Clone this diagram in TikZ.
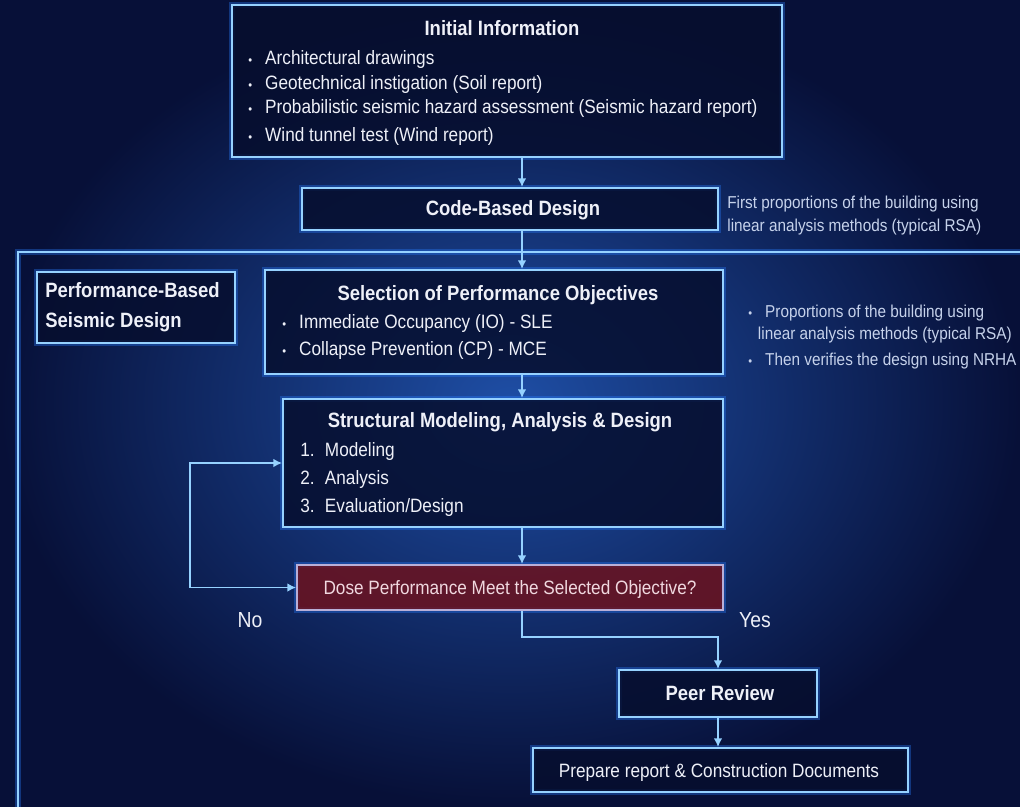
\documentclass[tikz,border=0pt]{standalone}
\usepackage{fontspec}
\setmainfont{Liberation Sans}[FakeStretch=0.89]
\usetikzlibrary{positioning, arrows.meta}

\definecolor{bgdark}{RGB}{7,16,56}
\definecolor{bglight}{RGB}{30,78,165}
\definecolor{edge}{RGB}{150,210,255}
\definecolor{glowc}{RGB}{40,125,255}
\definecolor{boxfill}{RGB}{6,14,46}
\definecolor{decfill}{RGB}{108,18,30}
\definecolor{decedge}{RGB}{185,175,215}
\definecolor{txt}{RGB}{238,240,248}
\definecolor{notetxt}{RGB}{198,210,235}

\newcommand{\blt}{\makebox[9.6pt][l]{\scriptsize\textbullet}}
\newcommand{\num}[1]{\makebox[14pt][l]{#1}}

\begin{document}
\begin{tikzpicture}[x=0.02cm, y=-0.02cm]

        % 1. Styles for boxes, texts and connectors
        \tikzset{
          box/.style={draw=edge, line width=1.1pt, fill=boxfill, fill opacity=0.85,
            inner sep=0pt, preaction={draw=glowc, line width=3.5pt, draw opacity=0.35}},
          head/.style={font=\bfseries\fontsize{11.8}{13}\selectfont, text=txt, inner sep=0pt},
          body/.style={font=\fontsize{11}{13}\selectfont, text=txt, inner sep=0pt, anchor=base west},
          note/.style={font=\fontsize{9.8}{11}\selectfont, text=notetxt, inner sep=0pt, anchor=base west},
          flow/.style={draw=edge, line width=1.1pt, -{Latex[length=5pt, width=5pt]}},
          frameline/.style={draw=edge, line width=1.1pt,
            preaction={draw=glowc, line width=3.5pt, draw opacity=0.35}}
        }

        % 2. Background
        \clip (0,0) rectangle (1020,806);
        \fill[bgdark] (0,0) rectangle (1020,806);
        \shade[inner color=bglight, outer color=bgdark] (0,0) rectangle (1020,806);

        % 3. Outer frame of the performance-based part
        \draw[frameline] (18,830) -- (18,252) -- (1040,252);

        % 4. Initial information
        \node[box, minimum width=11cm, minimum height=3.04cm] (init) at (507,81) {};
        \node[head, anchor=base] (initTitle) at (502,35) {Initial Information};
        \node[body] (init1) at (248,64) {\blt Architectural drawings};
        \node[body] (init2) at (248,89) {\blt Geotechnical instigation (Soil report)};
        \node[body] (init3) at (248,113) {\blt Probabilistic seismic hazard assessment (Seismic hazard report)};
        \node[body] (init4) at (248,141) {\blt Wind tunnel test (Wind report)};

        % 5. Code-based design and its note
        \node[box, minimum width=8.32cm, minimum height=0.84cm] (code) at (510,209) {};
        \node[head, anchor=base] (codeText) at (513,215) {Code-Based Design};
        \node[note] (codeNote1) at (727,208) {First proportions of the building using};
        \node[note] (codeNote2) at (727,231) {linear analysis methods (typical RSA)};

        % 6. Performance-based seismic design
        \node[box, minimum width=3.96cm, minimum height=1.42cm] (pbsd) at (136,307.5) {};
        \node[head, anchor=base west] (pbsd1) at (45,297) {Performance-Based};
        \node[head, anchor=base west] (pbsd2) at (45,327) {Seismic Design};

        \node[box, minimum width=9.16cm, minimum height=2.08cm] (sel) at (494,322) {};
        \node[head, anchor=base] (selTitle) at (498,300) {Selection of Performance Objectives};
        \node[body] (sel1) at (282,328) {\blt Immediate Occupancy (IO) - SLE};
        \node[body] (sel2) at (282,355) {\blt Collapse Prevention (CP) - MCE};

        \node[note] (pbsdNote1) at (748,317) {\blt Proportions of the building using};
        \node[note] (pbsdNote2) at (757.6,339) {linear analysis methods (typical RSA)};
        \node[note] (pbsdNote3) at (748,365) {\blt Then verifies the design using NRHA};

        % 7. Modeling, analysis and check
        \node[box, minimum width=8.8cm, minimum height=2.56cm] (struct) at (503,463) {};
        \node[head, anchor=base] (structTitle) at (500,427) {Structural Modeling, Analysis \& Design};
        \node[body] (struct1) at (300,456) {\num{1.}Modeling};
        \node[body] (struct2) at (300,484) {\num{2.}Analysis};
        \node[body] (struct3) at (300,512) {\num{3.}Evaluation/Design};

        \node[box, fill=decfill, draw=decedge, minimum width=8.52cm, minimum height=0.9cm] (dec) at (510,587.5) {};
        \node[body, anchor=base, text=txt!90!red] (decText) at (510,594) {Dose Performance Meet the Selected Objective?};

        \node[body, font=\fontsize{12.4}{13}\selectfont, anchor=base] (no) at (250,627) {No};
        \node[body, font=\fontsize{12.4}{13}\selectfont, anchor=base] (yes) at (755,627) {Yes};

        % 8. Review and documents
        \node[box, minimum width=3.96cm, minimum height=0.94cm] (peer) at (718,693.5) {};
        \node[head, anchor=base] (peerText) at (720,700) {Peer Review};

        \node[box, minimum width=7.5cm, minimum height=0.88cm] (prep) at (720.5,770) {};
        \node[body, anchor=base] (prepText) at (719,777) {Prepare report \& Construction Documents};

        % 9. Connectors
        \coordinate (spine) at (522,0);
        \coordinate (loopL) at (190,0);
        \coordinate (yesBend) at (0,637);

        \draw[flow] (init.south -| spine) -- (code.north -| spine);
        \draw[flow] (code.south -| spine) -- (sel.north -| spine);
        \draw[flow] (sel.south -| spine) -- (struct.north -| spine);
        \draw[flow] (struct.south -| spine) -- (dec.north -| spine);

        \draw[flow] (dec.west -| loopL) -- (dec.west);
        \draw[flow] (dec.west -| loopL) |- (struct.west);

        \draw[flow] (dec.south -| spine) -- (spine |- yesBend) -| (peer.north);
        \draw[flow] (peer.south) -- (peer.south |- prep.north);

    \end{tikzpicture}
\end{document}
